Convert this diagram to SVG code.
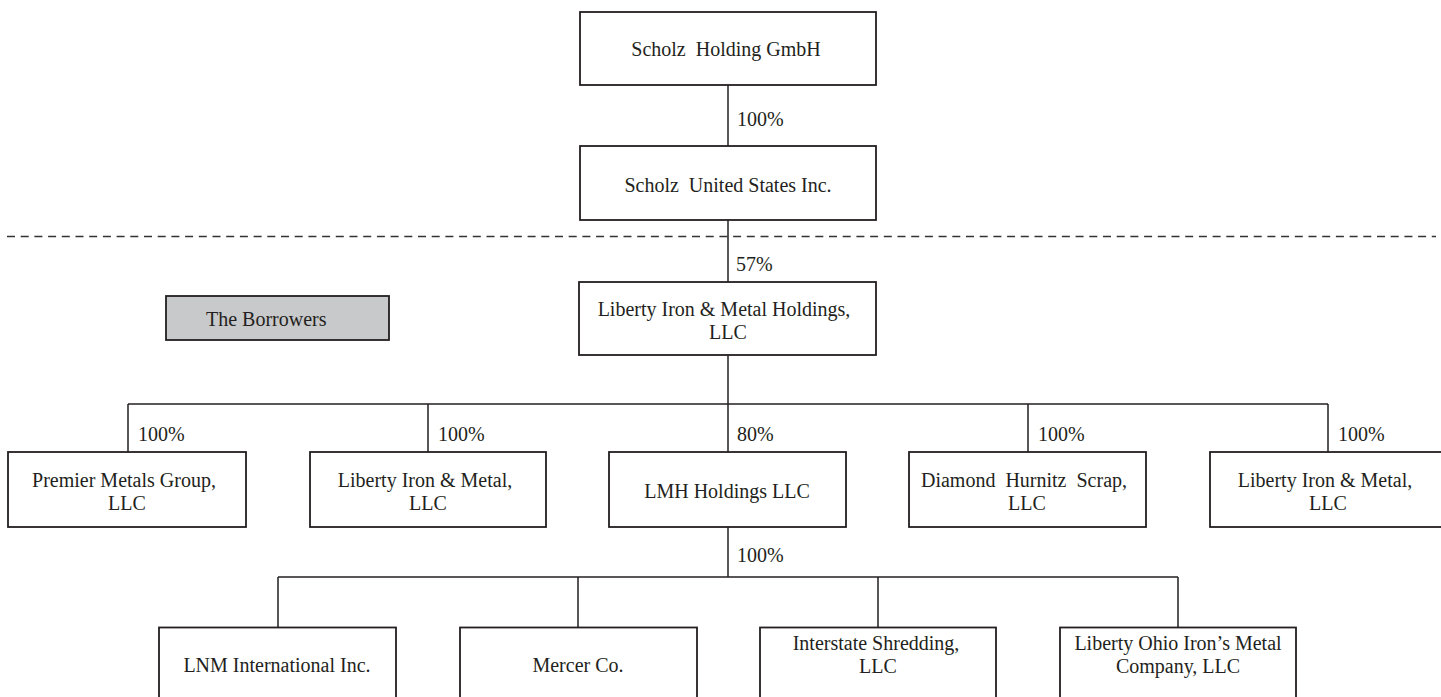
<svg xmlns="http://www.w3.org/2000/svg" width="1441" height="697" viewBox="0 0 1441 697">
<style>
  .box { fill: #ffffff; stroke: #231f20; stroke-width: 1.8; }
  .grey { fill: #c8c9cb; stroke: #231f20; stroke-width: 1.8; }
  .t { font-family: "Liberation Serif", "Times New Roman", serif; font-size: 20px; fill: #231f20; text-anchor: middle; }
  .lbl { font-family: "Liberation Serif", "Times New Roman", serif; font-size: 20px; fill: #231f20; }
  .ln { stroke: #231f20; stroke-width: 1.5; fill: none; }
  .dash { stroke: #333333; stroke-width: 1.5; stroke-dasharray: 8 5.7; fill: none; }
</style>
<rect x="0" y="0" width="1441" height="697" fill="#ffffff"/>

<line class="dash" x1="7" y1="236.5" x2="1436" y2="236.5"/>

<g id="connectors">
  <path class="ln" d="M728 85 V146"/>
  <path class="ln" d="M728 220 V282"/>
  <path class="ln" d="M728 355 V404"/>
  <path class="ln" d="M128 404 H1328"/>
  <path class="ln" d="M128 404 V452 M428 404 V452 M728 404 V452 M1028 404 V452 M1328 404 V452"/>
  <path class="ln" d="M728 527 V577"/>
  <path class="ln" d="M278 577 H1178"/>
  <path class="ln" d="M278 577 V627.5 M578 577 V627.5 M878 577 V627.5 M1178 577 V627.5"/>
  <text class="lbl" x="737" y="126">100%</text>
  <text class="lbl" x="736" y="271">57%</text>
  <text class="lbl" x="138" y="441">100%</text>
  <text class="lbl" x="438" y="441">100%</text>
  <text class="lbl" x="737" y="441">80%</text>
  <text class="lbl" x="1038" y="441">100%</text>
  <text class="lbl" x="1338" y="441">100%</text>
  <text class="lbl" x="737" y="562">100%</text>
</g>

<g id="scholz-holding">
  <rect class="box" x="580" y="12" width="296" height="73"/>
  <text class="t" x="726" y="56" xml:space="preserve">Scholz  Holding GmbH</text>
</g>
<g id="scholz-us">
  <rect class="box" x="580" y="146" width="296" height="74"/>
  <text class="t" x="728" y="192" xml:space="preserve">Scholz  United States Inc.</text>
</g>
<g id="liberty-holdings">
  <rect class="box" x="579" y="282" width="297" height="73"/>
  <text class="t" x="724" y="316">Liberty Iron &amp; Metal Holdings,</text>
  <text class="t" x="728" y="339">LLC</text>
</g>
<g id="borrowers">
  <rect class="grey" x="166" y="296" width="223" height="44"/>
  <text class="lbl" x="206" y="326">The Borrowers</text>
</g>

<g id="premier">
  <rect class="box" x="8" y="452" width="238" height="75"/>
  <text class="t" x="124" y="487">Premier Metals Group,</text>
  <text class="t" x="127" y="510">LLC</text>
</g>
<g id="liberty-1">
  <rect class="box" x="310" y="452" width="236" height="75"/>
  <text class="t" x="425" y="487">Liberty Iron &amp; Metal,</text>
  <text class="t" x="428" y="510">LLC</text>
</g>
<g id="lmh">
  <rect class="box" x="609" y="452" width="237" height="75"/>
  <text class="t" x="727" y="498">LMH Holdings LLC</text>
</g>
<g id="diamond">
  <rect class="box" x="909" y="452" width="237" height="75"/>
  <text class="t" x="1024" y="487" xml:space="preserve">Diamond  Hurnitz  Scrap,</text>
  <text class="t" x="1027" y="510">LLC</text>
</g>
<g id="liberty-2">
  <rect class="box" x="1210" y="452" width="240" height="75"/>
  <text class="t" x="1325" y="487">Liberty Iron &amp; Metal,</text>
  <text class="t" x="1328" y="510">LLC</text>
</g>

<g id="lnm">
  <rect class="box" x="159" y="627.5" width="237" height="80"/>
  <text class="t" x="277" y="672">LNM International Inc.</text>
</g>
<g id="mercer">
  <rect class="box" x="460" y="627.5" width="237" height="80"/>
  <text class="t" x="578" y="672">Mercer Co.</text>
</g>
<g id="interstate">
  <rect class="box" x="760" y="627.5" width="236" height="80"/>
  <text class="t" x="876" y="650">Interstate Shredding,</text>
  <text class="t" x="878" y="673">LLC</text>
</g>
<g id="liberty-ohio">
  <rect class="box" x="1060" y="627.5" width="236" height="80"/>
  <text class="t" x="1178" y="650">Liberty Ohio Iron’s Metal</text>
  <text class="t" x="1178" y="673">Company, LLC</text>
</g>
</svg>
